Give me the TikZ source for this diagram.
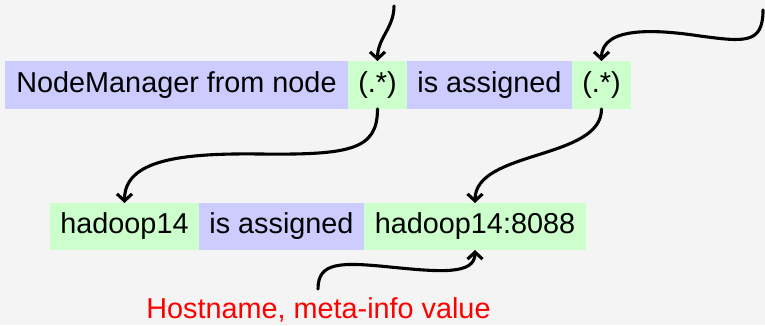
\documentclass[tikz,border=0pt]{standalone}
\usepackage{fontspec}
\setmainfont{Liberation Sans}
\usetikzlibrary{arrows.meta}
\definecolor{bgc}{HTML}{F4F4F4}
\definecolor{litc}{HTML}{CCCCFF}
\definecolor{grpc}{HTML}{CCFFCC}
\begin{document}
\begin{tikzpicture}[x=1pt,y=-1pt,
  seg/.style={inner sep=0pt, outer sep=0pt, minimum height=48pt,
    text height=20pt, text depth=6pt,
    font=\fontsize{28.8}{34}\selectfont},
  literal/.style={seg, fill=litc},
  group/.style={seg, fill=grpc},
  link/.style={line width=3.1pt, line cap=round,
    -{Straight Barb[length=7pt,width=15pt]}},
  note/.style={text=red, inner sep=0pt, font=\fontsize{28.8}{34}\selectfont}]
  % canvas
  \fill[bgc] (0,0) rectangle (765,325);
  \useasboundingbox (0,0) rectangle (765,325);

  % pattern row
  \node[literal, minimum width=343pt] (a) at (176.5,85) {NodeManager from node};
  \node[group,   minimum width=59pt]  (b) at (377.5,85) {(.*)};
  \node[literal, minimum width=165pt] (c) at (489.5,85) {is assigned};
  \node[group,   minimum width=59pt]  (d) at (601.5,85) {(.*)};

  % matched row
  \node[group,   minimum width=149pt, minimum height=47pt] (e) at (124.5,226.5) {hadoop14};
  \node[literal, minimum width=165pt, minimum height=47pt] (f) at (281.5,226.5) {is assigned};
  \node[group,   minimum width=222pt, minimum height=47pt] (g) at (475,226.5) {hadoop14:8088};

  % caption
  \node[note, anchor=base] (h) at (318.5,318) {Hostname, meta-info value};

  % loose ends of the connectors
  \coordinate (s1) at (394,6);
  \coordinate (s2) at (763,10);
  \coordinate (h0) at (318,289);

  % connectors
  \draw[link] (s1) .. controls (394,28) and (377.5,38) .. (b.north);
  \draw[link] (s2) .. controls (763,44) and (745,42) .. (700,36)
                   .. controls (660,30) and (601.5,25) .. (d.north);
  \draw[link] (b.south) .. controls (377.5,150) and (350,155) .. (260,154)
                        .. controls (180,153) and (124.5,160) .. (e.north);
  \draw[link] (d.south) .. controls (601.5,160) and (475,150) .. (g.north);
  \draw[link] (h0) .. controls (318,262) and (340,262) .. (390,267)
                   .. controls (440,272) and (475,275) .. (g.south);
\end{tikzpicture}
\end{document}
